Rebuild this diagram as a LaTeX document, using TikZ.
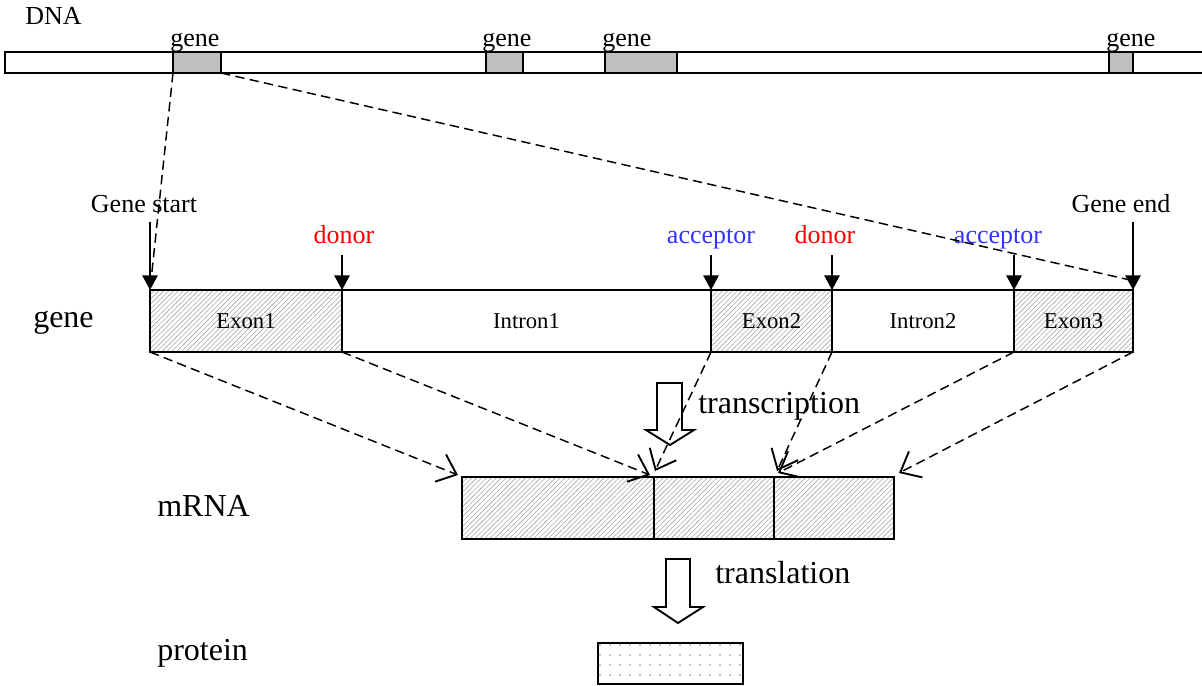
\documentclass[tikz,border=0pt]{standalone}
\usepackage{fontspec}
\setmainfont{Liberation Serif}
\usetikzlibrary{arrows.meta,patterns.meta,fit}
\definecolor{accblue}{RGB}{51,51,255}
\begin{document}
\begin{tikzpicture}[x=0.75pt,y=-0.75pt,
  bx/.style={draw, line width=1.4pt, inner sep=0pt, outer sep=0pt, rectangle},
  exon/.style={bx, pattern={Lines[angle=45,distance=2.6pt,line width=0.45pt]}, pattern color=black!35},
  intron/.style={bx},
  dnagene/.style={bx, fill=black!25},
  small/.style={font=\fontsize{19.5}{22}\selectfont, inner sep=0pt},
  big/.style={font=\fontsize{24}{28}\selectfont, inner sep=0pt},
  seglbl/.style={font=\fontsize{17}{20}\selectfont, inner sep=0pt},
  sitearrow/.style={line width=1.4pt, -{Triangle[length=11pt,width=11.5pt]}},
  proj/.style={line width=1.1pt, dash pattern=on 7pt off 4pt},
  projarrow/.style={proj, -{Straight Barb[length=13pt,width=22pt,line width=1.4pt]}},
  hollow/.style={line width=1.4pt, line join=miter}
]
\useasboundingbox (0,0) rectangle (1202,685);

% DNA
\node[small, anchor=base west] (dna) at (25,25) {DNA};
\draw[line width=1.4pt] (1210,52) -- (5,52) -- (5,73) -- (1210,73);
\node[dnagene, fit={(173,52) (221,73)}] (g1) {};
\node[dnagene, fit={(486,52) (523,73)}] (g2) {};
\node[dnagene, fit={(605,52) (677,73)}] (g3) {};
\node[dnagene, fit={(1109,52) (1133,73)}] (g4) {};
\node[small, anchor=base west] (gl1) at (170,47) {gene};
\node[small, anchor=base west] (gl2) at (482,47) {gene};
\node[small, anchor=base west] (gl3) at (602,47) {gene};
\node[small, anchor=base west] (gl4) at (1106,47) {gene};

% gene structure
\node[exon, fit={(150,290) (342,352)}] (e1) {};
\node[intron, fit={(342,290) (711,352)}] (i1) {};
\node[exon, fit={(711,290) (832,352)}] (e2) {};
\node[intron, fit={(832,290) (1014,352)}] (i2) {};
\node[exon, fit={(1014,290) (1133,352)}] (e3) {};
\node[seglbl] (e1t) at (e1.center) {Exon1};
\node[seglbl] (i1t) at (i1.center) {Intron1};
\node[seglbl] (e2t) at (e2.center) {Exon2};
\node[seglbl] (i2t) at (i2.center) {Intron2};
\node[seglbl] (e3t) at (e3.center) {Exon3};

% site labels and arrows
\node[small, anchor=base] (gs) at (144,212) {Gene start};
\node[small, anchor=base] (ge) at (1121,212) {Gene end};
\node[small, anchor=base, text=red] (d1) at (344,243) {donor};
\node[small, anchor=base, text=accblue] (a1) at (711,243) {acceptor};
\node[small, anchor=base, text=red] (d2) at (825,243) {donor};
\node[small, anchor=base, text=accblue] (a2) at (998,243) {acceptor};
\coordinate (gsTop) at (150,222);
\coordinate (geTop) at (1133,222);
\coordinate (d1Top) at (342,255);
\coordinate (a1Top) at (711,255);
\coordinate (d2Top) at (832,255);
\coordinate (a2Top) at (1014,255);
\draw[sitearrow] (gsTop) -- (e1.north west);
\draw[sitearrow] (geTop) -- (e3.north east);
\draw[sitearrow] (d1Top) -- (e1.north east);
\draw[sitearrow] (a1Top) -- (e2.north west);
\draw[sitearrow] (d2Top) -- (e2.north east);
\draw[sitearrow] (a2Top) -- (e3.north west);

% zoom lines from DNA gene
\draw[proj] (g1.south west) -- (e1.north west);
\draw[proj] (g1.south east) -- ([shift={(-3,-10)}]e3.north east);

% big labels
\node[big, anchor=base west] (lgene) at (33,327) {gene};
\node[big, anchor=base west] (lmrna) at (157,516) {mRNA};
\node[big, anchor=base west] (lprot) at (157,660) {protein};
\node[big, anchor=base west] (ltrc) at (698,413) {transcription};
\node[big, anchor=base west] (ltrl) at (715,583) {translation};

% mRNA
\node[exon, fit={(462,477) (654,539)}] (m1) {};
\node[exon, fit={(654,477) (774,539)}] (m2) {};
\node[exon, fit={(774,477) (894,539)}] (m3) {};

% protein
\node[bx, pattern={Dots[distance=7.5pt,radius=0.7pt]}, pattern color=black!45, fit={(598,643) (743,684)}] (prot) {};

% hollow arrows
\draw[hollow] (657,383) -- (682,383) -- (682,430) -- (694,430) -- (670,445) -- (646,430) -- (657,430) -- cycle;
\draw[hollow] (666,559) -- (690,559) -- (690,607) -- (703,607) -- (678,623) -- (654,607) -- (666,607) -- cycle;

% projections gene -> mRNA
\draw[projarrow] (e1.south west) -- ([shift={(-4,-2)}]m1.north west);
\draw[projarrow] (e1.south east) -- ([shift={(-4,-2)}]m2.north west);
\draw[projarrow] (e2.south west) -- ([shift={(1,-6)}]m2.north west);
\draw[projarrow] (e2.south east) -- ([shift={(3,-6)}]m3.north west);
\draw[projarrow] (e3.south west) -- ([shift={(4,-4)}]m3.north west);
\draw[projarrow] (e3.south east) -- ([shift={(5,-4)}]m3.north east);
\end{tikzpicture}
\end{document}
